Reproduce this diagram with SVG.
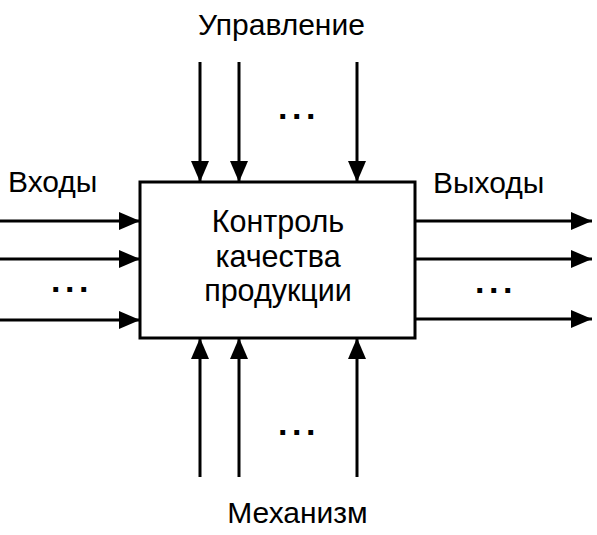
<svg xmlns="http://www.w3.org/2000/svg" width="597" height="535" viewBox="0 0 597 535">
<style>
text{font-family:"Liberation Sans",Arial,sans-serif;fill:#000}
.lbl{font-size:30px}
.ctr{font-size:30.5px;text-anchor:middle}
.dots{font-size:34px;font-weight:bold;letter-spacing:4.5px}
.ln{stroke:#000;stroke-width:3;fill:none}
</style>
<defs>
<marker id="ah" markerUnits="userSpaceOnUse" markerWidth="21" markerHeight="18" viewBox="0 0 21 18" refX="21" refY="9" orient="auto">
<path d="M0,0 L21,9 L0,18 z" fill="#000"/>
</marker>
</defs>
<rect width="597" height="535" fill="#fff"/>
<g id="process">
<rect x="140" y="182" width="275" height="156" fill="#fff" stroke="#000" stroke-width="3"/>
<text class="ctr" x="278" y="232">Контроль</text>
<text class="ctr" x="278" y="267">качества</text>
<text class="ctr" x="278" y="301">продукции</text>
</g>
<g id="connectors">
<line class="ln" x1="0" y1="221" x2="140" y2="221" marker-end="url(#ah)"/>
<line class="ln" x1="0" y1="259" x2="140" y2="259" marker-end="url(#ah)"/>
<line class="ln" x1="0" y1="320" x2="140" y2="320" marker-end="url(#ah)"/>
<line class="ln" x1="415" y1="221" x2="592" y2="221" marker-end="url(#ah)"/>
<line class="ln" x1="415" y1="259" x2="592" y2="259" marker-end="url(#ah)"/>
<line class="ln" x1="415" y1="319" x2="592" y2="319" marker-end="url(#ah)"/>
<line class="ln" x1="200" y1="62" x2="200" y2="182" marker-end="url(#ah)"/>
<line class="ln" x1="239" y1="62" x2="239" y2="182" marker-end="url(#ah)"/>
<line class="ln" x1="357" y1="62" x2="357" y2="182" marker-end="url(#ah)"/>
<line class="ln" x1="200" y1="477" x2="200" y2="338" marker-end="url(#ah)"/>
<line class="ln" x1="239" y1="477" x2="239" y2="338" marker-end="url(#ah)"/>
<line class="ln" x1="357" y1="477" x2="357" y2="338" marker-end="url(#ah)"/>
</g>
<g id="labels">
<text class="lbl" x="8" y="192">Входы</text>
<text class="lbl" x="433" y="193">Выходы</text>
<text class="lbl" x="281.5" y="35" text-anchor="middle" font-size="31">Управление</text>
<text class="lbl" x="297.5" y="523" text-anchor="middle">Механизм</text>
<text class="dots" x="51" y="292">...</text>
<text class="dots" x="475" y="293">...</text>
<text class="dots" x="278" y="119">...</text>
<text class="dots" x="278" y="435">...</text>
</g>
</svg>
